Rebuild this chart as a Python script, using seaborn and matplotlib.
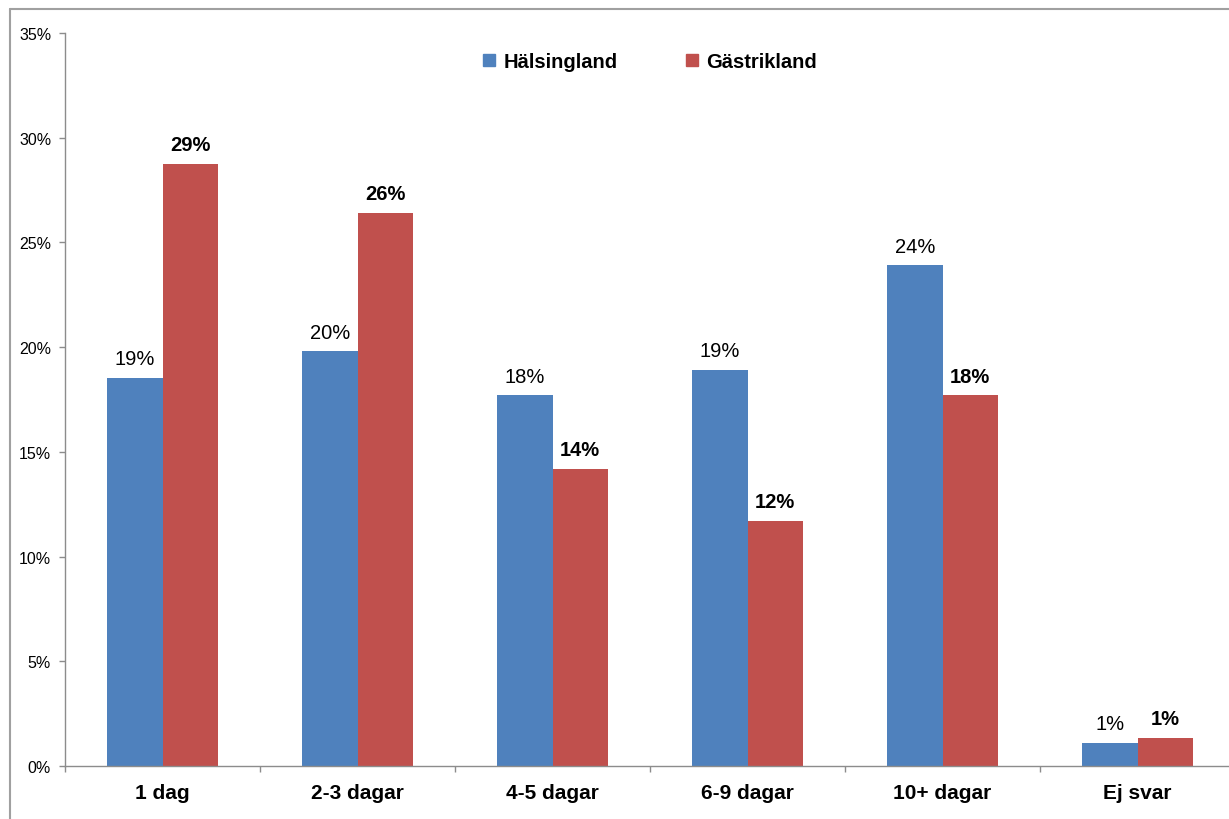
import matplotlib
matplotlib.use("Agg")
import matplotlib.pyplot as plt
from matplotlib.lines import Line2D
from matplotlib.ticker import FixedLocator, FuncFormatter
import seaborn as sns
import pandas as pd

categories = ["1 dag", "2-3 dagar", "4-5 dagar", "6-9 dagar", "10+ dagar", "Ej svar"]
halsingland = [18.55, 19.8, 17.7, 18.9, 23.9, 1.1]
gastrikland = [28.75, 26.4, 14.2, 11.7, 17.7, 1.35]
series_names = ["Hälsingland", "Gästrikland"]
colors = ["#4F81BD", "#C0504D"]

df = pd.DataFrame({
    "kategori": categories * 2,
    "region": [series_names[0]] * len(categories) + [series_names[1]] * len(categories),
    "andel": halsingland + gastrikland,
})

sns.set_style("white")
plt.rcParams["font.family"] = ["Liberation Sans", "DejaVu Sans"]
plt.rcParams["text.color"] = "black"
plt.rcParams["xtick.color"] = "black"
plt.rcParams["ytick.color"] = "black"

fig = plt.figure(figsize=(12.29, 8.2), dpi=100)
ax = fig.add_axes([65 / 1229, 53 / 820, 1170 / 1229, 733 / 820])

sns.barplot(data=df, x="kategori", y="andel", hue="region", order=categories,
            hue_order=series_names, palette=colors, width=0.57, saturation=1,
            errorbar=None, ax=ax, legend=False, linewidth=0, edgecolor="none")

ax.set_xlim(-0.5, len(categories) - 0.5)
ax.set_ylim(0, 35)
ax.set_xlabel("")
ax.set_ylabel("")

grey = "#8c8c8c"
for s in ["top", "right"]:
    ax.spines[s].set_visible(False)
for s in ["left", "bottom"]:
    ax.spines[s].set_color(grey)
    ax.spines[s].set_linewidth(1.0)

ax.yaxis.set_major_locator(FixedLocator(range(0, 36, 5)))
ax.yaxis.set_major_formatter(FuncFormatter(lambda v, p: f"{v:.0f}%"))
ax.tick_params(axis="y", which="major", direction="out", length=4, width=1,
               color=grey, labelcolor="black", labelsize=11.5, pad=6, left=True)

ax.set_xticks(range(len(categories)))
ax.set_xticklabels(categories, fontsize=15, fontweight="bold", color="black")
ax.tick_params(axis="x", which="major", length=0, pad=12)
ax.xaxis.set_minor_locator(FixedLocator([i - 0.5 for i in range(len(categories) + 1)]))
ax.tick_params(axis="x", which="minor", direction="out", length=4, width=1,
               color=grey, bottom=True)

for container, weight in zip(ax.containers, ["normal", "bold"]):
    ax.bar_label(container, labels=[f"{b.get_height():.0f}%" for b in container],
                 padding=7, fontsize=14.5, fontweight=weight, color="black")

handles = [plt.Rectangle((0, 0), 1, 1, color=c) for c in colors]
ax.legend(handles, series_names, loc="center", bbox_to_anchor=(0.5, 0.961),
          ncol=2, frameon=False, handlelength=0.6, handleheight=0.6,
          handletextpad=0.4, columnspacing=3.4, labelcolor="black",
          prop={"size": 14.5, "weight": "bold"})

# outer chart-area border
fig.add_artist(Line2D([10 / 1229, 10 / 1229], [0, 1 - 10 / 820],
                      transform=fig.transFigure, color="#a0a0a0", lw=1.5))
fig.add_artist(Line2D([10 / 1229, 1], [1 - 10 / 820, 1 - 10 / 820],
                      transform=fig.transFigure, color="#a0a0a0", lw=1.5))

fig.savefig("out.png", dpi=100, facecolor="white")
